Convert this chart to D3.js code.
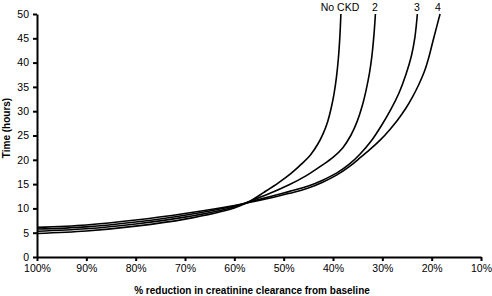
<!DOCTYPE html>
<html><head><meta charset="utf-8">
<script src="https://cdn.jsdelivr.net/npm/d3@7"></script>
<style>
body{margin:0;background:#fff;}
text{font-family:"Liberation Sans",Arial,sans-serif;}
</style></head>
<body><svg id="c" width="492" height="296"></svg>
<script>
const xTicks = [100,90,80,70,60,50,40,30,20,10];
const yTicks = [0,5,10,15,20,25,30,35,40,45,50];
const seriesNames = ["No CKD","2","3","4"];
// [% of baseline creatinine clearance, time in hours]
const noCKD = [[100,4.85],[90,5.35],[80,6.35],[70,7.8],[60,10.1],[57,11.4],[54,13.3],[51,15.3],[48.5,17.2],[46.3,19.2],[44.5,21.1],[43.1,23.2],[42,25.4],[41.1,27.8],[40.4,30.5],[39.8,33.5],[39.3,37],[38.9,41],[38.6,45.5],[38.4,50]];
const ckd2 = [[100,5.3],[90,5.8],[80,6.8],[70,8.2],[60,10.3],[57,11.4],[53,13.0],[49,14.8],[45.5,16.7],[42.5,18.7],[40,20.5],[38,22.5],[36.4,25.0],[35.1,27.9],[34.1,31.0],[33.3,34.3],[32.6,37.9],[32.1,41.5],[31.7,45.7],[31.4,50]];
const ckd3 = [[100,5.75],[90,6.2],[80,7.2],[70,8.6],[60,10.5],[57,11.3],[52.5,12.5],[48.8,13.5],[45,14.6],[42.1,15.8],[39.2,17.3],[36.7,19.1],[34.5,21.2],[32.3,23.8],[30.2,27.0],[28.3,30.3],[26.6,33.8],[25.2,37.6],[24.1,41.4],[23.4,45.2],[22.9,50]];
const ckd4 = [[100,6.1],[90,6.6],[80,7.6],[70,8.95],[60,10.6],[57,11.2],[52.5,12.2],[48.8,13.1],[45,14.2],[42.1,15.4],[39.2,16.9],[36.7,18.6],[34.3,20.6],[32.2,22.4],[30.3,24.2],[28.5,26.2],[26.9,28.2],[25.3,30.5],[23.9,32.9],[22.6,35.5],[21.5,38.1],[20.6,41],[19.8,44.2],[19.0,47.3],[18.3,50]];
const seriesData = [noCKD, ckd2, ckd3, ckd4];
const labelX = [340, 375, 417, 438];

const svg = d3.select("#c");
const x = d3.scaleLinear().domain([100,10]).range([37,481]);
const y = d3.scaleLinear().domain([0,50]).range([257,14]);

const xAxis = svg.append("g").attr("transform","translate(0,257)")
  .call(d3.axisBottom(x).tickValues(xTicks).tickFormat(d=>d+"%").tickSize(4).tickSizeOuter(0).tickPadding(4));
const yAxis = svg.append("g").attr("transform","translate(37,0)")
  .call(d3.axisLeft(y).tickValues(yTicks).tickSize(4).tickSizeOuter(0).tickPadding(4));
[xAxis,yAxis].forEach(a=>{
  a.selectAll("path,line").attr("stroke","#000").attr("stroke-width",2);
  a.selectAll("text").attr("font-size","10.5px").attr("fill","#000").attr("font-family","Liberation Sans, Arial, sans-serif");
});

const line = d3.line().x(d=>x(d[0])).y(d=>y(d[1])).curve(d3.curveCatmullRom.alpha(0.5));
seriesData.forEach((s,i)=>{
  svg.append("path").datum(s).attr("d",line).attr("fill","none").attr("stroke","#000").attr("stroke-width",1.6);
  svg.append("text").attr("x",labelX[i]).attr("y",11).attr("text-anchor","middle").attr("font-size","10.5px").text(seriesNames[i]);
});

svg.append("text").attr("x",252).attr("y",294).attr("text-anchor","middle").attr("font-size","10px").attr("font-weight","bold")
  .text("% reduction in creatinine clearance from baseline");
svg.append("text").attr("transform","translate(10,128) rotate(-90)").attr("text-anchor","middle").attr("font-size","10px").attr("font-weight","bold")
  .text("Time (hours)");
</script></body></html>
